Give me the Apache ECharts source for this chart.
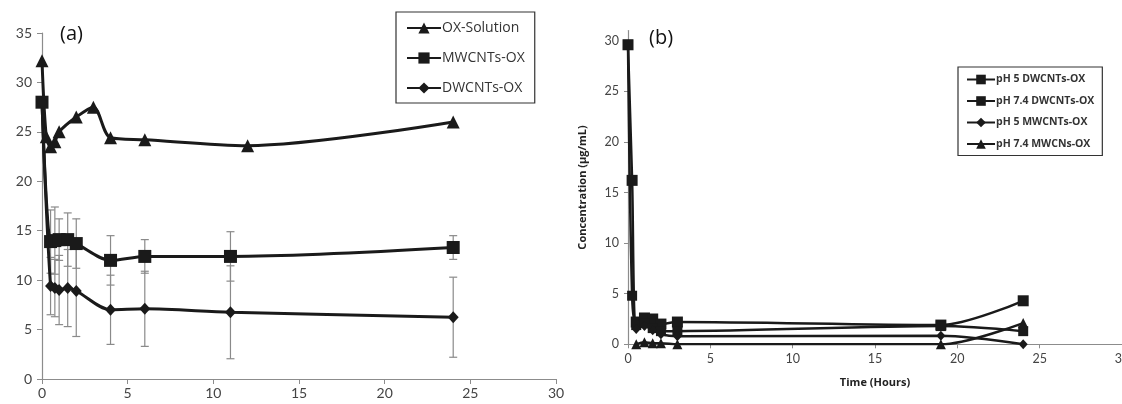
<!DOCTYPE html>
<html>
<head>
<meta charset="utf-8">
<script src="https://cdn.jsdelivr.net/npm/echarts@6/dist/echarts.min.js"></script>
<style>html,body{margin:0;padding:0;background:#fff}#c{width:1122px;height:404px}</style>
</head>
<body>
<div id="c"></div>
<script>
// ---- Panel (a) data ----
const timeOX = [0, 0.25, 0.5, 0.75, 1, 2, 3, 4, 6, 12, 24];
const oxSolution = [32.2, 24.5, 23.5, 24.0, 25.0, 26.5, 27.5, 24.4, 24.2, 23.6, 26.0];
const timeCNT = [0, 0.5, 0.75, 1, 1.5, 2, 4, 6, 11, 24];
const mwcntsOX = [28.0, 13.9, 14.0, 14.1, 14.1, 13.7, 12.0, 12.4, 12.4, 13.3];
const mwcntsErr = [0, 3.2, 3.4, 2.1, 2.7, 2.5, 2.5, 1.7, 2.5, 1.2];
const dwcntsOX = [28.0, 9.4, 9.2, 9.0, 9.2, 8.9, 7.0, 7.1, 6.75, 6.25];
const dwcntsErr = [0, 2.9, 2.9, 3.5, 3.9, 4.6, 3.5, 3.8, 4.7, 4.05];
const ticksA_x = [0, 5, 10, 15, 20, 25, 30];
const ticksA_y = [0, 5, 10, 15, 20, 25, 30, 35];

// ---- Panel (b) data ----
const timeB = [0, 0.25, 0.5, 1, 1.5, 2, 3, 19, 24];
const ph5DW = [29.6, 16.2, 2.2, 2.6, 2.5, 2.0, 2.2, 1.9, 4.3];
const ph74DW = [29.6, 4.8, 1.9, 2.1, 1.6, 1.3, 1.3, 1.8, 1.3];
const ph5MW = [null, null, 1.5, 1.8, 1.4, 1.0, 0.8, 0.85, 0.0];
const ph74MW = [null, null, 0.0, 0.2, 0.1, 0.1, 0.0, 0.0, 2.1];
const ticksB_x = [0, 5, 10, 15, 20, 25, 30];
const ticksB_y = [0, 5, 10, 15, 20, 25, 30];

const namesA = ['OX-Solution', 'MWCNTs-OX', 'DWCNTs-OX'];
const namesB = ['pH 5 DWCNTs-OX', 'pH 7.4 DWCNTs-OX', 'pH 5 MWCNTs-OX', 'pH 7.4 MWCNs-OX'];

function pairs(xs, ys) { return xs.map((x, i) => [x, ys[i]]); }
function errData(xs, ys, es) {
  const out = [];
  xs.forEach((x, i) => { if (es[i] > 0) out.push([x, ys[i] - es[i], ys[i] + es[i]]); });
  return out;
}
function errRender(params, api) {
  const x = api.value(0);
  const lo = api.coord([x, api.value(1)]);
  const hi = api.coord([x, api.value(2)]);
  const w = 4;
  const st = { stroke: '#8a8a8a', lineWidth: 1.2 };
  return { type: 'group', children: [
    { type: 'line', shape: { x1: lo[0], y1: lo[1], x2: hi[0], y2: hi[1] }, style: st },
    { type: 'line', shape: { x1: lo[0] - w, y1: lo[1], x2: lo[0] + w, y2: lo[1] }, style: st },
    { type: 'line', shape: { x1: hi[0] - w, y1: hi[1], x2: hi[0] + w, y2: hi[1] }, style: st }
  ]};
}

const FONT = 'Lato, "Open Sans", sans-serif';
const ink = '#1a1a1a';
const axisLineStyle = { lineStyle: { color: '#8c8c8c', width: 1.2 } };

function lineSeries(name, data, symbol, size, xi, lw) {
  return {
    name, type: 'line', xAxisIndex: xi, yAxisIndex: xi, data,
    smooth: 0.3, symbol, symbolSize: size, showSymbol: true,
    lineStyle: { color: ink, width: lw }, itemStyle: { color: ink },
    connectNulls: false, z: 3, animation: false
  };
}

const chart = echarts.init(document.getElementById('c'), null, { renderer: 'canvas' });
chart.setOption({
  animation: false,
  backgroundColor: '#fff',
  textStyle: { fontFamily: FONT },
  title: [
    { text: '(a)', left: 55, top: 19, textStyle: { fontSize: 20, fontWeight: 'normal', color: '#111', fontFamily: 'Open Sans, sans-serif' } },
    { text: '(b)', left: 644, top: 23, textStyle: { fontSize: 20, fontWeight: 'normal', color: '#111', fontFamily: 'Open Sans, sans-serif' } }
  ],
  legend: [
    { data: namesA, orient: 'vertical', left: 396, top: 12, itemWidth: 34, itemHeight: 14, itemGap: 16,
      padding: [9, 10, 8, 10], borderColor: '#333', borderWidth: 1.2,
      textStyle: { fontSize: 14, color: '#333', fontFamily: 'Open Sans, sans-serif', padding: [0, 0, 0, -4] } },
    { data: namesB, orient: 'vertical', left: 958, top: 67, itemWidth: 28, itemHeight: 12, itemGap: 10.5,
      padding: [7, 8, 6, 8], borderColor: '#333', borderWidth: 1.2,
      textStyle: { fontSize: 10.5, fontWeight: 'bold', color: '#333', fontFamily: 'Open Sans, sans-serif', padding: [0, 0, 0, -4] } }
  ],
  grid: [
    { left: 42, top: 33, width: 514, height: 346, outerBoundsMode: 'none', containLabel: false },
    { left: 628, top: 30.6, width: 494, height: 313.7, outerBoundsMode: 'none', containLabel: false }
  ],
  xAxis: [
    { type: 'value', gridIndex: 0, min: 0, max: 30, interval: 5,
      axisLine: axisLineStyle, axisTick: { show: true, length: 5, lineStyle: { color: '#8c8c8c' } },
      axisLabel: { customValues: ticksA_x, fontSize: 14, color: '#444', margin: 7 },
      splitLine: { show: false } },
    { type: 'value', gridIndex: 1, min: 0, max: 30, interval: 5,
      name: 'Time (Hours)', nameLocation: 'middle', nameGap: 33,
      nameTextStyle: { fontSize: 11, fontWeight: 'bold', color: '#222', fontFamily: 'Open Sans, sans-serif' },
      axisLine: axisLineStyle, axisTick: { show: true, length: 4, lineStyle: { color: '#8c8c8c' } },
      axisLabel: { customValues: ticksB_x, fontSize: 12.5, color: '#444', margin: 8 },
      splitLine: { show: false } }
  ],
  yAxis: [
    { type: 'value', gridIndex: 0, min: 0, max: 35, interval: 5,
      axisLine: { show: true, lineStyle: { color: '#8c8c8c', width: 1.2 } },
      axisTick: { show: true, length: 5, lineStyle: { color: '#8c8c8c' } },
      axisLabel: { customValues: ticksA_y, fontSize: 14, color: '#444', margin: 10 },
      splitLine: { show: false } },
    { type: 'value', gridIndex: 1, min: 0, max: 31, interval: 5,
      name: 'Concentration (µg/mL)', nameLocation: 'middle', nameGap: 40, nameRotate: 90,
      nameTextStyle: { fontSize: 11, fontWeight: 'bold', color: '#222', fontFamily: 'Open Sans, sans-serif' },
      axisLine: { show: true, lineStyle: { color: '#8c8c8c', width: 1.2 } },
      axisTick: { show: true, length: 4, customValues: ticksB_y, lineStyle: { color: '#8c8c8c' } },
      axisLabel: { customValues: ticksB_y, fontSize: 12.5, color: '#444', margin: 9 },
      splitLine: { show: false } }
  ],
  series: [
    { name: 'errMW', type: 'custom', xAxisIndex: 0, yAxisIndex: 0, renderItem: errRender,
      data: errData(timeCNT, mwcntsOX, mwcntsErr), z: 2, silent: true, encode: { x: 0, y: [1, 2] } },
    { name: 'errDW', type: 'custom', xAxisIndex: 0, yAxisIndex: 0, renderItem: errRender,
      data: errData(timeCNT, dwcntsOX, dwcntsErr), z: 2, silent: true, encode: { x: 0, y: [1, 2] } },
    lineSeries('OX-Solution', pairs(timeOX, oxSolution), 'triangle', 13, 0, 3),
    lineSeries('MWCNTs-OX', pairs(timeCNT, mwcntsOX), 'rect', 13, 0, 3),
    lineSeries('DWCNTs-OX', pairs(timeCNT, dwcntsOX), 'diamond', [11, 12], 0, 3),
    lineSeries('pH 5 DWCNTs-OX', pairs(timeB, ph5DW), 'rect', 11, 1, 2.5),
    lineSeries('pH 7.4 DWCNTs-OX', pairs(timeB, ph74DW), 'rect', 10, 1, 2.5),
    lineSeries('pH 5 MWCNTs-OX', pairs(timeB, ph5MW), 'diamond', [9, 10], 1, 2.5),
    lineSeries('pH 7.4 MWCNs-OX', pairs(timeB, ph74MW), 'triangle', 10, 1, 2.5)
  ]
});
</script>
</body>
</html>
